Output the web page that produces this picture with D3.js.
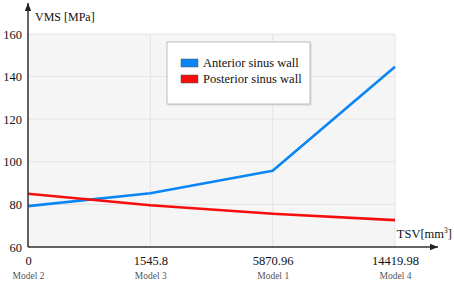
<!DOCTYPE html>
<html>
<head>
<meta charset="utf-8">
<script src="https://cdn.jsdelivr.net/npm/d3@7"></script>
<style>
  body { margin: 0; background: #fff; }
  svg { display: block; }
  svg text { font-family: "Liberation Serif", "Times New Roman", serif !important; }
</style>
</head>
<body>
<svg id="chart"></svg>
<script>
// von Mises stress of anterior / posterior sinus wall vs. TSV
const tsvLabels = ["0", "1545.8", "5870.96", "14419.98"];
const modelLabels = ["Model 2", "Model 3", "Model 1", "Model 4"];
const anterior = [79.2, 85.2, 95.8, 144.6];
const posterior = [85, 79.6, 75.6, 72.6];
const yTicks = [60, 80, 100, 120, 140, 160];

const width = 454,
  height = 281,
  margin = { top: 34, right: 59, bottom: 34, left: 28 };

const series = [
  { name: "Anterior sinus wall", values: anterior, color: "#0a85f5" },
  { name: "Posterior sinus wall", values: posterior, color: "#f70d0d" }
];

const x = d3.scalePoint(tsvLabels, [margin.left, width - margin.right]);
const y = d3.scaleLinear([60, 160], [height - margin.bottom, margin.top]);

const svg = d3.select("#chart").attr("width", width).attr("height", height);

// plot background
svg.append("rect")
  .attr("x", margin.left)
  .attr("y", margin.top)
  .attr("width", width - margin.right - margin.left)
  .attr("height", height - margin.bottom - margin.top)
  .attr("fill", "#f5f5f5");

// grid
svg.append("g")
  .selectAll("line")
  .data(yTicks)
  .join("line")
  .attr("x1", margin.left)
  .attr("x2", width - margin.right)
  .attr("y1", d => y(d))
  .attr("y2", d => y(d))
  .attr("stroke", "#e4e4e4");

svg.append("g")
  .selectAll("line")
  .data(tsvLabels)
  .join("line")
  .attr("x1", d => x(d))
  .attr("x2", d => x(d))
  .attr("y1", margin.top)
  .attr("y2", height - margin.bottom)
  .attr("stroke", "#e4e4e4");

// series
const line = d3.line()
  .x((d, i) => x(tsvLabels[i]))
  .y(d => y(d));

svg.append("g")
  .selectAll("path")
  .data(series)
  .join("path")
  .attr("d", d => line(d.values))
  .attr("fill", "none")
  .attr("stroke", d => d.color)
  .attr("stroke-width", 2.6)
  .attr("stroke-linejoin", "round");

// axes
svg.append("defs").append("marker")
  .attr("id", "arrow")
  .attr("viewBox", "0 0 10 10")
  .attr("refX", 10)
  .attr("refY", 5)
  .attr("markerWidth", 8)
  .attr("markerHeight", 8)
  .attr("markerUnits", "userSpaceOnUse")
  .attr("orient", "auto")
  .append("path")
  .attr("d", "M0,1L10,5L0,9Z")
  .attr("fill", "#222");

svg.append("line")
  .attr("x1", margin.left)
  .attr("x2", margin.left)
  .attr("y1", height - margin.bottom)
  .attr("y2", 3)
  .attr("stroke", "#333")
  .attr("stroke-width", 1.5)
  .attr("marker-end", "url(#arrow)");

svg.append("line")
  .attr("x1", margin.left)
  .attr("x2", 438)
  .attr("y1", height - margin.bottom)
  .attr("y2", height - margin.bottom)
  .attr("stroke", "#333")
  .attr("stroke-width", 1.5)
  .attr("marker-end", "url(#arrow)");

const yAxis = d3.axisLeft(y).tickValues(yTicks).tickSize(0).tickPadding(6);
svg.append("g")
  .attr("transform", `translate(${margin.left},0)`)
  .call(yAxis)
  .attr("font-size", 12.5)
  .call(g => g.select(".domain").remove())
  .selectAll("text")
  .attr("fill", "#111");

const xAxis = d3.axisBottom(x).tickSize(0).tickPadding(9);
svg.append("g")
  .attr("transform", `translate(0,${height - margin.bottom})`)
  .call(xAxis)
  .attr("font-size", 12.5)
  .call(g => g.select(".domain").remove())
  .call(g => g.selectAll(".tick text").attr("fill", "#111"))
  .call(g => g.selectAll(".tick")
    .append("text")
    .attr("class", "model")
    .attr("y", 32)
    .attr("fill", "#555")
    .attr("font-size", 9.5)
    .text((d, i) => modelLabels[i]));

// axis titles
svg.append("text")
  .attr("x", 35)
  .attr("y", 21)
  .attr("font-size", 12)
  .attr("fill", "#111")
  .text("VMS [MPa]");

const tsv = svg.append("text")
  .attr("x", 452)
  .attr("y", 238)
  .attr("text-anchor", "end")
  .attr("font-size", 12.5)
  .attr("fill", "#111");
tsv.append("tspan").text("TSV[mm");
tsv.append("tspan").attr("dy", -5).attr("font-size", 7.5).text("3");
tsv.append("tspan").attr("dy", 5).text("]");

// legend
const legend = svg.append("g").attr("transform", "translate(167,42)");
legend.append("rect")
  .attr("x", 1.5)
  .attr("y", 1.5)
  .attr("width", 143)
  .attr("height", 62)
  .attr("fill", "#d8d8d8");
legend.append("rect")
  .attr("width", 143)
  .attr("height", 62)
  .attr("fill", "#fff")
  .attr("stroke", "#bdbdbd");

legend.selectAll("g")
  .data(series)
  .join("g")
  .attr("transform", (d, i) => `translate(14,${17 + i * 16})`)
  .call(g => g.append("rect")
    .attr("width", 17)
    .attr("height", 8)
    .attr("fill", d => d.color)
    .attr("stroke", "#555")
    .attr("stroke-width", 0.5))
  .call(g => g.append("text")
    .attr("x", 22)
    .attr("y", 4)
    .attr("dy", "0.35em")
    .attr("font-size", 12.5)
    .attr("fill", "#111")
    .text(d => d.name));
</script>
</body>
</html>
